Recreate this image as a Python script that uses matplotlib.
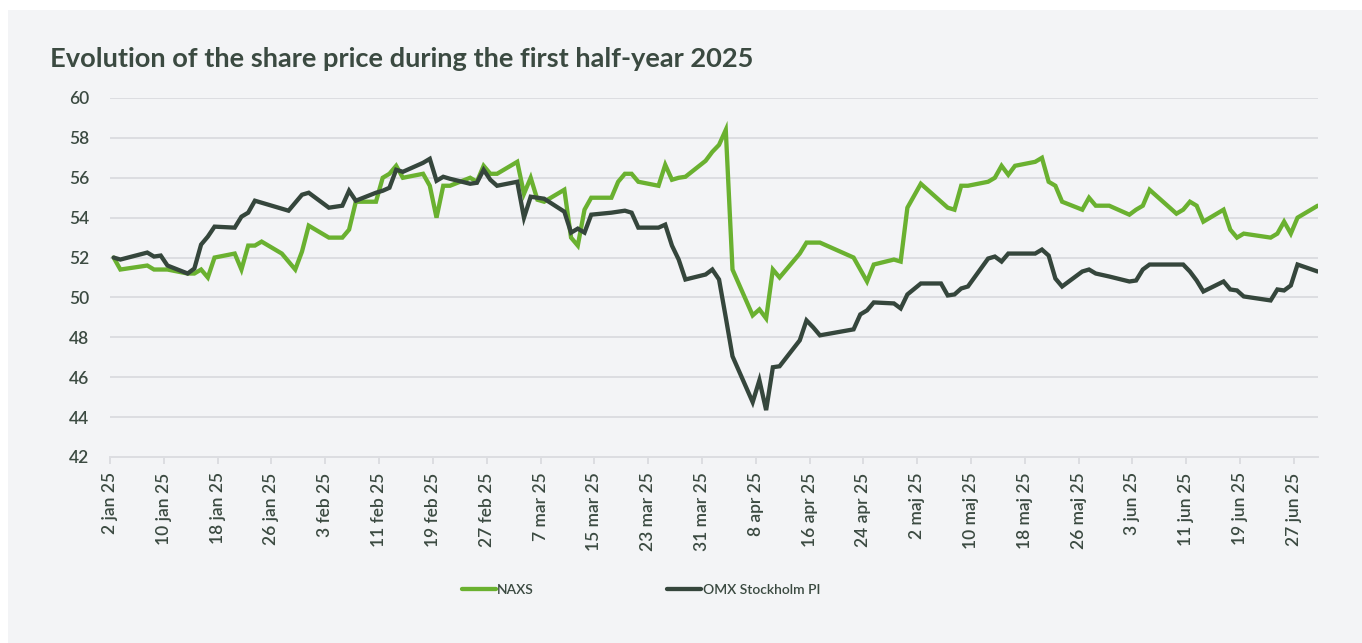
from pathlib import Path
import matplotlib
matplotlib.use("Agg")
import matplotlib.pyplot as plt
from matplotlib.patches import Rectangle
import pandas as pd

# trading days (Stockholm), first half of 2025
days = [
    "01-02", "01-03", "01-07", "01-08", "01-09", "01-10", "01-13", "01-14", "01-15", "01-16",
    "01-17", "01-20", "01-21", "01-22", "01-23", "01-24", "01-27", "01-28", "01-29", "01-30", "01-31",
    "02-03", "02-04", "02-05", "02-06", "02-07", "02-10", "02-11", "02-12", "02-13", "02-14",
    "02-17", "02-18", "02-19", "02-20", "02-21", "02-24", "02-25", "02-26", "02-27", "02-28",
    "03-03", "03-04", "03-05", "03-06", "03-07", "03-10", "03-11", "03-12", "03-13", "03-14",
    "03-17", "03-18", "03-19", "03-20", "03-21", "03-24", "03-25", "03-26", "03-27", "03-28", "03-31",
    "04-01", "04-02", "04-03", "04-04", "04-07", "04-08", "04-09", "04-10", "04-11",
    "04-14", "04-15", "04-16", "04-17", "04-22", "04-23", "04-24", "04-25", "04-28", "04-29", "04-30",
    "05-02", "05-05", "05-06", "05-07", "05-08", "05-09", "05-12", "05-13", "05-14", "05-15", "05-16",
    "05-19", "05-20", "05-21", "05-22", "05-23", "05-26", "05-27", "05-28", "05-30",
    "06-02", "06-03", "06-04", "06-05", "06-09", "06-10", "06-11", "06-12", "06-13",
    "06-16", "06-17", "06-18", "06-19", "06-23", "06-24", "06-25", "06-26", "06-27", "06-30",
]

naxs = [
    52.0, 51.4, 51.6, 51.4, 51.4, 51.4, 51.2, 51.2, 51.4, 51.0,
    52.0, 52.2, 51.4, 52.6, 52.6, 52.8, 52.2, 51.8, 51.4, 52.3, 53.6,
    53.0, 53.0, 53.0, 53.4, 54.8, 54.8, 56.0, 56.2, 56.6, 56.0,
    56.2, 55.6, 54.0, 55.6, 55.6, 56.0, 55.8, 56.6, 56.2, 56.2,
    56.8, 55.2, 56.0, 54.9, 54.8, 55.4, 53.0, 52.6, 54.4, 55.0,
    55.0, 55.8, 56.2, 56.2, 55.8, 55.6, 56.65, 55.9, 56.0, 56.05, 56.85,
    57.3, 57.65, 58.4, 51.4, 49.1, 49.4, 48.95, 51.4, 51.0,
    52.2, 52.75, 52.75, 52.75, 52.0, 51.4, 50.8, 51.65, 51.9, 51.8, 54.5,
    55.7, 54.8, 54.5, 54.4, 55.6, 55.6, 55.8, 56.0, 56.6, 56.15, 56.6,
    56.8, 57.0, 55.8, 55.6, 54.8, 54.4, 55.0, 54.6, 54.6,
    54.15, 54.4, 54.6, 55.4, 54.2, 54.4, 54.8, 54.6, 53.8,
    54.4, 53.4, 53.0, 53.2, 53.0, 53.2, 53.8, 53.2, 54.0, 54.6,
]

omx = [
    52.0, 51.9, 52.25, 52.05, 52.1, 51.6, 51.2, 51.45, 52.65, 53.05,
    53.55, 53.5, 54.05, 54.25, 54.85, 54.75, 54.45, 54.35, 54.75, 55.15, 55.25,
    54.5, 54.55, 54.6, 55.35, 54.85, 55.25, 55.35, 55.5, 56.4, 56.3,
    56.75, 56.95, 55.85, 56.05, 55.95, 55.7, 55.75, 56.4, 55.9, 55.6,
    55.8, 54.0, 55.05, 55.0, 54.95, 54.3, 53.25, 53.45, 53.25, 54.15,
    54.25, 54.3, 54.35, 54.25, 53.5, 53.5, 53.65, 52.6, 51.9, 50.9, 51.15,
    51.4, 50.9, 49.0, 47.05, 44.75, 45.85, 44.35, 46.5, 46.55,
    47.85, 48.85, 48.5, 48.1, 48.4, 49.15, 49.35, 49.75, 49.7, 49.45, 50.15,
    50.7, 50.7, 50.1, 50.15, 50.45, 50.55, 51.95, 52.05, 51.8, 52.2, 52.2,
    52.2, 52.4, 52.1, 50.95, 50.55, 51.3, 51.4, 51.2, 51.05,
    50.8, 50.85, 51.4, 51.65, 51.65, 51.65, 51.3, 50.85, 50.3,
    50.8, 50.4, 50.35, 50.05, 49.85, 50.4, 50.35, 50.6, 51.65, 51.3,
]

series_names = ["NAXS", "OMX Stockholm PI"]
month_names = {1: "jan", 2: "feb", 3: "mar", 4: "apr", 5: "maj", 6: "jun"}

BG = "#f3f4f6"
GRID = "#dcdde1"
TEXT = "#3b4a41"
GREEN = "#6ab130"
DARK = "#35463c"


def main():
    plt.rcParams["font.family"] = ["Lato", "DejaVu Sans"]

    dates = pd.to_datetime(["2025-" + d for d in days])
    # closing prices sit roughly half a day right of the date tick
    x = dates + pd.Timedelta(hours=13)

    fig = plt.figure(figsize=(13.62, 6.43), dpi=100, facecolor="white")
    fig.patches.append(
        Rectangle((8 / 1362, 0), 1, 1 - 10 / 643, transform=fig.transFigure,
                  facecolor=BG, edgecolor="none", zorder=-10)
    )

    ax = fig.add_axes([110 / 1362, 1 - 457 / 643, 1208 / 1362, 359 / 643])
    ax.set_facecolor(BG)
    ax.patch.set_alpha(0)

    ax.plot(x, naxs, color=GREEN, lw=3.1, label=series_names[0],
            solid_joinstyle="miter", solid_capstyle="round", zorder=3)
    ax.plot(x, omx, color=DARK, lw=3.1, label=series_names[1],
            solid_joinstyle="miter", solid_capstyle="round", zorder=4)

    ax.set_ylim(42, 60)
    ax.set_yticks(range(42, 61, 2))
    ax.set_xlim(pd.Timestamp("2025-01-02"), pd.Timestamp("2025-06-30 14:00"))

    tick_dates = pd.date_range("2025-01-02", "2025-06-27", freq="8D")
    ax.set_xticks(tick_dates)
    ax.set_xticklabels([f"{d.day} {month_names[d.month]} 25" for d in tick_dates],
                       rotation=90, va="top", ha="center")

    ax.grid(axis="y", color=GRID, lw=1.4)
    ax.set_axisbelow(True)
    for side in ["top", "right", "left"]:
        ax.spines[side].set_visible(False)
    ax.spines["bottom"].set_color(GRID)
    ax.spines["bottom"].set_linewidth(1.4)

    ax.tick_params(axis="y", length=0, pad=15, labelsize=12.5, labelcolor=TEXT)
    ax.tick_params(axis="x", length=5, width=1.4, color=GRID, pad=6,
                   labelsize=12.5, labelcolor=TEXT)
    for lab in ax.get_xticklabels() + ax.get_yticklabels():
        lab.set_fontweight("semibold")

    fig.text(50 / 1362, 1 - 59 / 643, "Evolution of the share price during the first half-year 2025",
             fontsize=19.6, fontweight="bold", color=TEXT, va="center", ha="left")

    leg = fig.legend(loc="center left", bbox_to_anchor=(449 / 1362, 1 - 590 / 643),
                     ncol=2, frameon=False, fontsize=10, handlelength=2.45,
                     handletextpad=0.12, columnspacing=9.6)
    for txt in leg.get_texts():
        txt.set_color(TEXT)
        txt.set_fontweight("semibold")

    fig.savefig(Path("out.png"), dpi=100, facecolor="white")
    plt.close(fig)


if __name__ == "__main__":
    main()
